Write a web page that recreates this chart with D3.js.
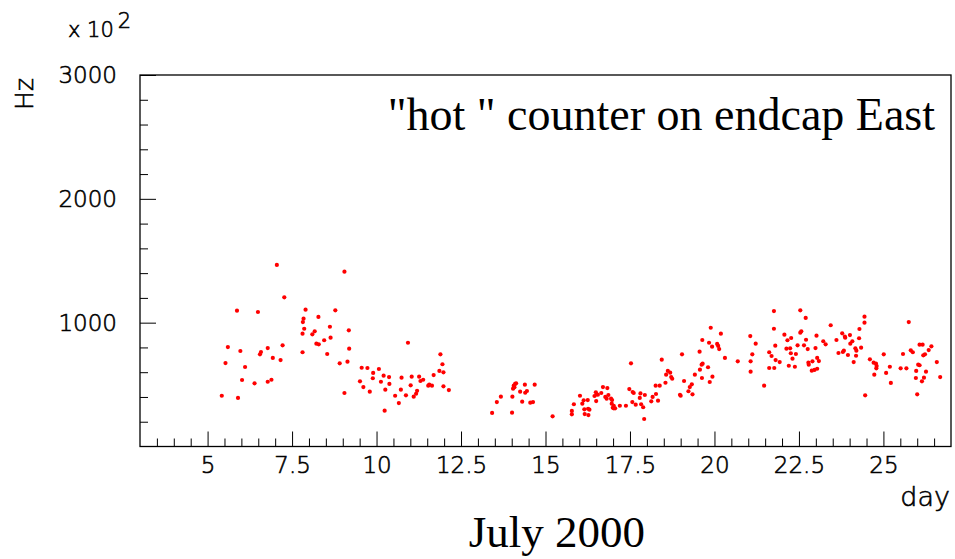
<!DOCTYPE html>
<html lang="en">
<head>
  <meta charset="UTF-8">
  <title>hot counter on endcap East</title>
  <script src="https://d3js.org/d3.v7.min.js"></script>
  <style>
    body { margin: 0; background: #fff; }
    .tick-label, .axis-title {
      font-family: "DejaVu Sans", sans-serif;
      font-weight: 200;
      fill: #000;
      stroke: #000;
      stroke-width: 0.6px;
    }
    .serif {
      font-family: "Liberation Serif", "Times New Roman", serif;
      fill: #000;
    }
    .dot { fill: #ff0000; }
  </style>
</head>
<body>
<div id="chart"></div>
<script>
// day of July 2000
const days = [
  7.05, 9.05, 7.27, 5.87, 6.49, 8.78, 7.90, 7.84, 7.82, 8.28, 7.86, 9.18, 8.62, 8.17, 8.10, 7.81,
  8.64, 8.45, 8.22, 8.29, 5.60, 7.22, 6.78, 6.58, 6.55, 5.97, 9.19, 7.81, 8.54, 6.93, 7.16, 5.53,
  8.91, 9.14, 6.11, 9.56, 9.73, 10.07, 9.90, 10.21, 10.37, 9.89, 6.02, 6.89, 6.78, 6.39, 9.51, 10.13,
  10.38, 9.61, 10.26, 9.80, 9.05, 5.42, 5.90, 10.24,
  10.55, 10.66, 10.72, 10.74, 10.93, 10.87, 11.01, 11.04, 11.10, 11.17, 11.20, 11.26, 11.30, 11.38,
  11.53, 11.56, 11.64, 11.69, 11.86, 11.89, 11.95, 11.98, 11.98, 12.14,
  13.42, 13.56, 13.68, 14.01, 14.02, 14.04, 14.06, 14.08, 14.10, 14.13, 14.25, 14.31, 14.39, 14.40,
  14.45, 14.55, 14.63, 14.68, 15.21, 15.78, 15.78, 15.84, 16.02,
  16.09, 16.13, 16.15, 16.16, 16.25, 16.26, 16.27, 16.30, 16.45, 16.49, 16.50, 16.52, 16.55, 16.65,
  16.70, 16.77, 16.81, 16.83, 16.86, 16.94, 16.96, 16.97, 16.99, 17.02, 17.06, 17.02, 17.20, 17.38,
  17.48, 17.53, 17.58, 17.61, 17.57, 17.67, 17.79, 17.81, 17.83, 17.89, 17.92, 17.94, 18.13, 18.17,
  18.26, 18.27, 18.33, 18.38, 18.44, 18.55, 18.57, 18.62, 18.69, 18.72, 18.75, 18.98, 19.00, 19.04,
  19.10, 19.23, 19.27, 19.33, 19.35, 19.42, 19.57, 19.56, 19.62, 19.65, 19.63, 19.64, 19.81, 19.84,
  19.86, 19.89, 19.94, 19.93, 20.08, 20.11, 20.14, 20.19, 20.31, 20.69, 21.06, 21.12, 21.07, 21.07,
  21.22, 21.47, 21.62, 21.62,
  21.69, 21.76, 21.76, 21.80, 21.77, 21.81, 21.93, 22.07, 22.13, 22.16, 22.20, 22.24, 22.26, 22.27,
  22.31, 22.38, 22.41, 22.46, 22.54, 22.54, 22.57, 22.65, 22.70, 22.71, 22.76, 22.78, 22.79, 22.88,
  22.90, 22.96, 22.99, 23.02, 23.04, 23.04, 23.09, 23.22, 23.29, 23.44, 23.61, 23.67, 23.78, 23.80,
  23.83, 23.86, 23.87, 23.95, 24.01, 24.02, 24.08, 24.12, 24.17, 24.20, 24.19, 24.28, 24.29, 24.34,
  24.44, 24.44, 24.46, 24.60, 24.71, 24.78, 24.80, 24.79, 24.73, 25.01, 25.08, 25.19, 25.22, 25.51,
  25.58, 25.68, 25.75, 25.81, 25.87, 25.96, 25.97, 26.00, 26.03, 26.07, 26.07, 26.16, 26.14, 26.18,
  26.23, 26.20, 26.26, 26.34, 26.42, 26.58, 26.68
];

// counting rate, in units of 10^2 Hz as on the axis
const rates = [
  1466, 1412, 1205, 1097, 1086, 1100, 1105, 1032, 1005, 1046, 951, 938, 967, 930, 906, 911,
  879, 858, 830, 825, 803, 817, 795, 763, 744, 771, 790, 761, 747, 715, 698, 674,
  672, 685, 642, 636, 634, 626, 594, 572, 561, 551, 537, 539, 523, 510, 526, 523,
  505, 480, 459, 443, 432, 410, 392, 289,
  410, 351, 459, 556, 838, 413, 494, 564, 402, 426, 450, 564, 529, 539,
  491, 499, 491, 577, 610, 744, 664, 599, 486, 456,
  271, 359, 402, 273, 402, 467, 491, 478, 505, 510, 443, 362, 499, 434,
  448, 354, 359, 499, 244, 287, 260, 341, 410,
  346, 373, 300, 262, 375, 305, 254, 297, 408, 438, 367, 421, 418, 432,
  480, 400, 386, 472, 416, 386, 346, 375, 313, 308, 308, 329, 329, 329,
  464, 672, 440, 432, 359, 338, 392, 429, 341, 317, 222, 416, 365, 400,
  491, 424, 370, 491, 701, 515, 580, 610, 596, 561, 547, 418, 410, 744,
  529, 446, 480, 502, 421, 580, 620, 766, 661, 669, 553, 860, 640, 838,
  521, 959, 564, 806, 828, 812, 787, 911, 715, 688, 892, 744, 688, 604,
  830, 491, 634, 761,
  731, 1094, 951, 814, 634, 698, 682, 903, 790, 858, 652, 793, 753, 876,
  709, 644, 747, 817, 1100, 919, 930, 817, 1038, 862, 787, 677, 661, 612,
  688, 618, 795, 895, 715, 628, 690, 850, 825, 979, 860, 755, 914, 763,
  774, 887, 879, 739, 900, 830, 850, 682, 793, 774, 733, 874, 949, 798,
  1048, 1000, 413, 704, 677, 669, 650, 631, 580, 744, 594, 644, 513, 631,
  747, 631, 1005, 777, 761, 553, 610, 421, 661, 656, 822, 822, 526, 736,
  744, 556, 604, 779, 809, 682, 561
];

const xMajor = [5, 7.5, 10, 12.5, 15, 17.5, 20, 22.5, 25];
const xMinor = d3.range(3.5, 27, 0.5).filter(v => v % 2.5 !== 0);
const yMajor = [1000, 2000, 3000];
const yMinor = d3.range(200, 3000, 200).filter(v => v % 1000 !== 0);

const W = 955, H = 559;
const margin = { top: 75, right: 4, bottom: 112.5, left: 140 };
const width = W - margin.left - margin.right;
const height = H - margin.top - margin.bottom;

const svg = d3.select("#chart")
  .append("svg")
  .attr("width", W)
  .attr("height", H);

const g = svg.append("g")
  .attr("transform", `translate(${margin.left},${margin.top})`);

const x = d3.scaleLinear().domain([3, 27]).range([0, width]);
const y = d3.scaleLinear().domain([0, 3000]).range([height, 0]);

// frame
g.append("rect")
  .attr("width", width)
  .attr("height", height)
  .attr("fill", "none")
  .attr("stroke", "#000")
  .attr("stroke-width", 1.3);

// x axis: ticks point inward
const xAxisG = g.append("g").attr("transform", `translate(0,${height})`);
xAxisG.append("g")
  .call(d3.axisBottom(x).tickValues(xMajor).tickSizeInner(-15).tickSizeOuter(0)
    .tickPadding(10).tickFormat(d3.format("")));
xAxisG.append("g")
  .call(d3.axisBottom(x).tickValues(xMinor).tickSizeInner(-8).tickSizeOuter(0).tickFormat(""));

// y axis
const yAxisG = g.append("g");
yAxisG.append("g")
  .call(d3.axisLeft(y).tickValues(yMajor).tickSizeInner(-16).tickSizeOuter(0)
    .tickPadding(23).tickFormat(d3.format("")));
yAxisG.append("g")
  .call(d3.axisLeft(y).tickValues(yMinor).tickSizeInner(-8).tickSizeOuter(0).tickFormat(""));

g.selectAll(".domain").remove();
g.selectAll(".tick line").attr("stroke", "#000").attr("stroke-width", 1);
g.selectAll(".tick text")
  .attr("class", "tick-label")
  .attr("font-size", null)
  .style("font-size", "23px");

// points
g.selectAll(".dot")
  .data(days.map((d, i) => [d, rates[i]]))
  .enter()
  .append("circle")
  .attr("class", "dot")
  .attr("cx", d => x(d[0]))
  .attr("cy", d => y(d[1]))
  .attr("r", 2.1);

// axis titles
svg.append("text")
  .attr("class", "axis-title")
  .attr("transform", "translate(33,78) rotate(-90)")
  .attr("text-anchor", "end")
  .style("font-size", "25px")
  .text("Hz");

svg.append("text")
  .attr("class", "axis-title")
  .attr("x", 950)
  .attr("y", 506)
  .attr("text-anchor", "end")
  .style("font-size", "27px")
  .text("day");

const mult = svg.append("text")
  .attr("class", "axis-title")
  .attr("x", 68)
  .attr("y", 37)
  .style("font-size", "21px");
mult.append("tspan").text("x 10");
mult.append("tspan").attr("dx", 4).attr("dy", -9).text("2");

// labels
svg.append("text")
  .attr("class", "serif")
  .attr("x", 935)
  .attr("y", 130)
  .attr("text-anchor", "end")
  .style("font-size", "46px")
  .text("\"hot \" counter on endcap East");

svg.append("text")
  .attr("class", "serif")
  .attr("x", 557)
  .attr("y", 547)
  .attr("text-anchor", "middle")
  .style("font-size", "45px")
  .text("July 2000");
</script>
</body>
</html>
